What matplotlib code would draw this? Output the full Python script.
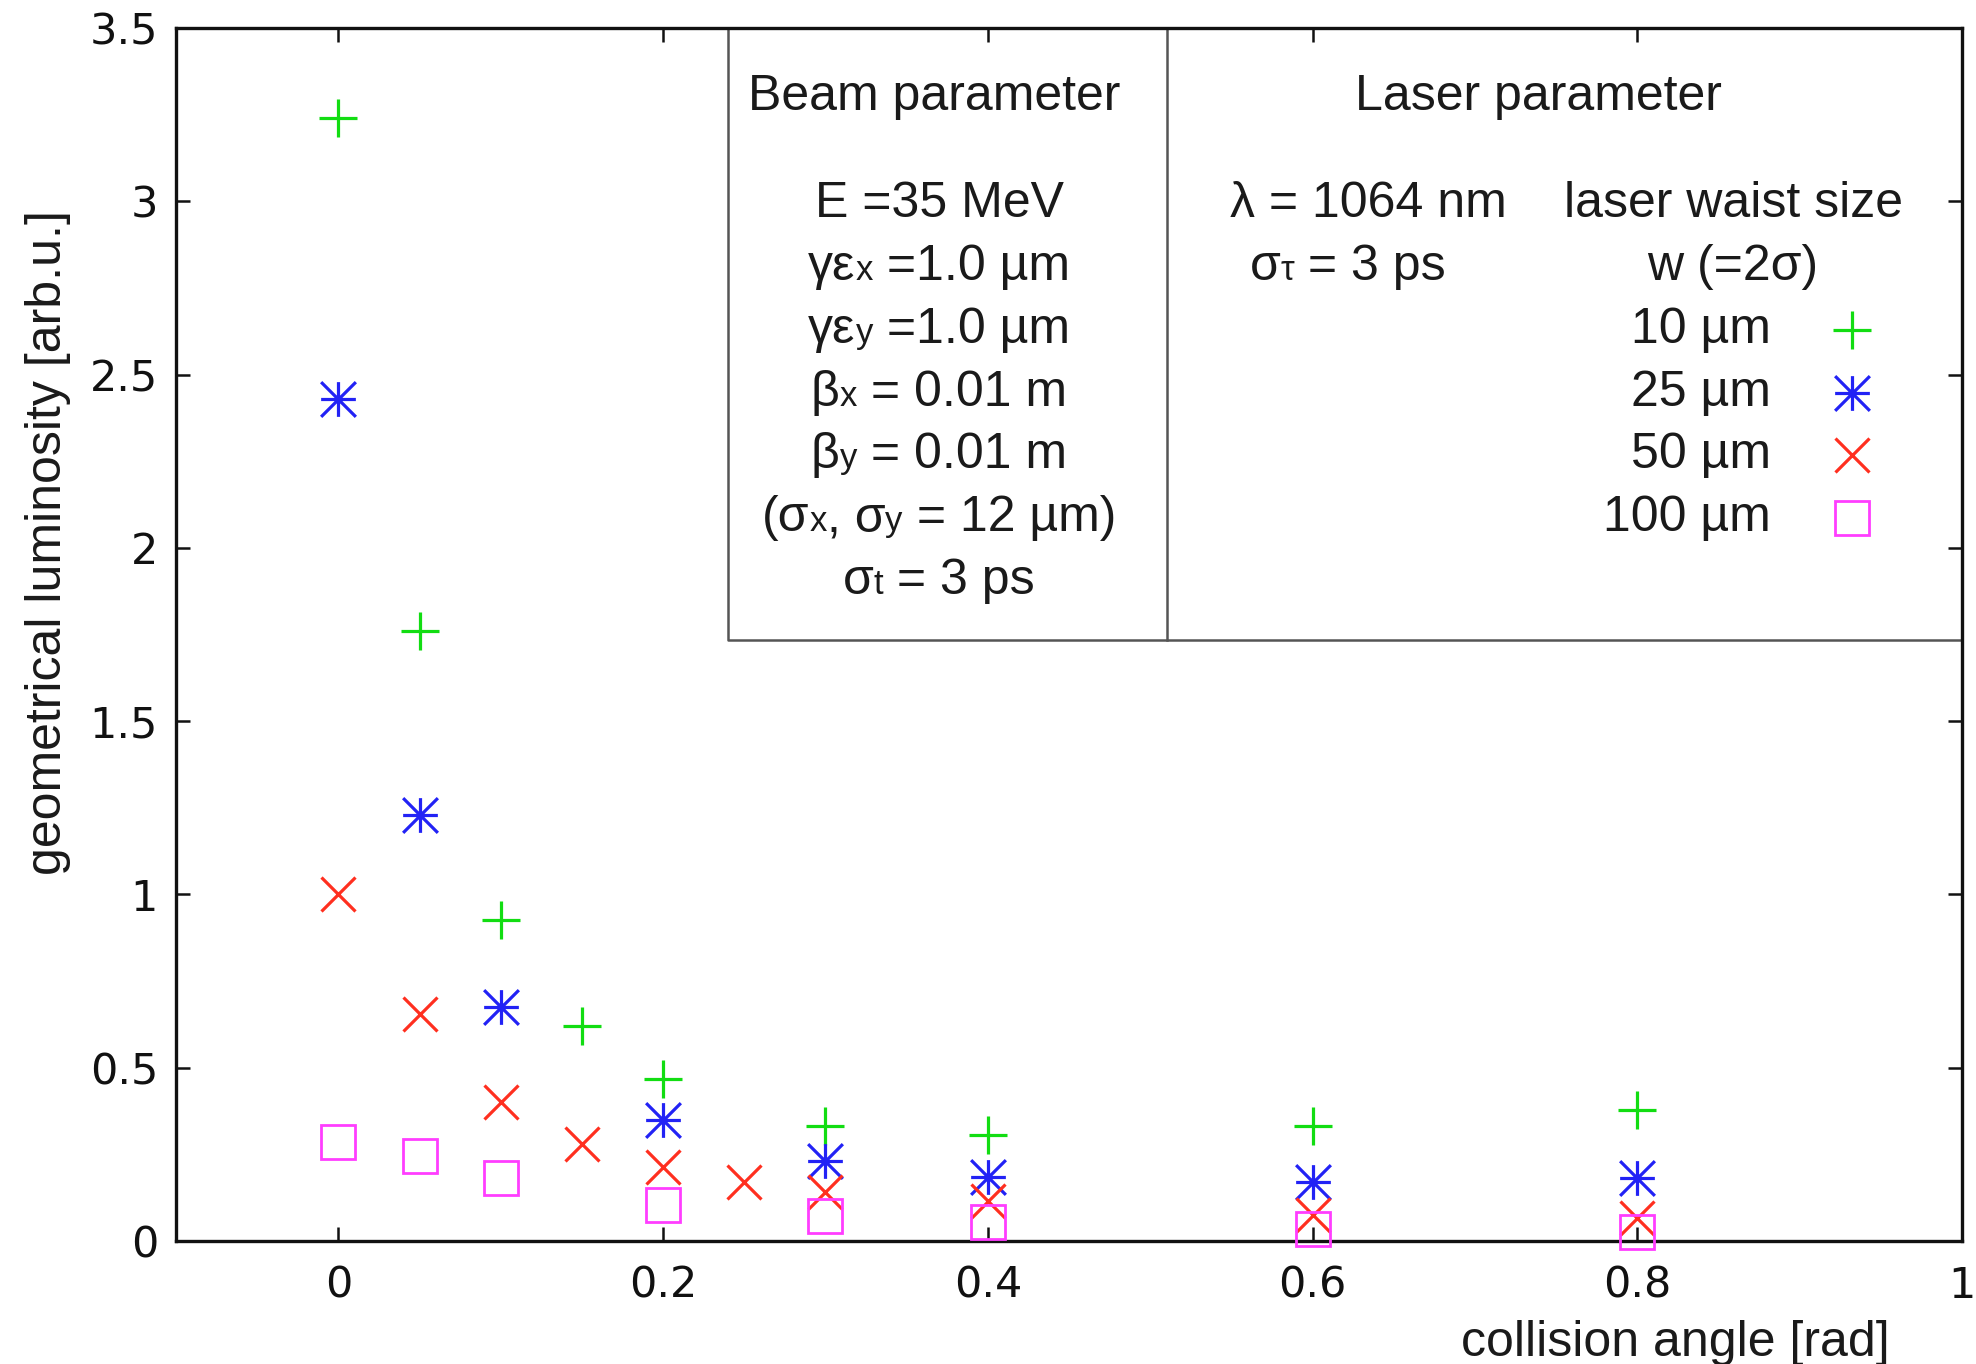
import matplotlib
matplotlib.use("Agg")
import matplotlib.pyplot as plt
from matplotlib.offsetbox import TextArea, HPacker, AnnotationBbox
from matplotlib.path import Path

# ---- data: geometrical luminosity vs collision angle for four laser waist sizes
angle_10 = [0.0, 0.05, 0.10, 0.15, 0.20, 0.30, 0.40, 0.60, 0.80]
lum_10 = [3.24, 1.76, 0.925, 0.62, 0.468, 0.332, 0.306, 0.331, 0.379]

angle_25 = [0.0, 0.05, 0.10, 0.20, 0.30, 0.40, 0.60, 0.80]
lum_25 = [2.43, 1.23, 0.674, 0.348, 0.231, 0.186, 0.171, 0.183]

angle_50 = [0.0, 0.05, 0.10, 0.15, 0.20, 0.25, 0.30, 0.40, 0.60, 0.80]
lum_50 = [1.0, 0.655, 0.401, 0.279, 0.213, 0.170, 0.140, 0.115, 0.075, 0.065]

angle_100 = [0.0, 0.05, 0.10, 0.20, 0.30, 0.40, 0.60, 0.80]
lum_100 = [0.287, 0.244, 0.181, 0.104, 0.072, 0.056, 0.035, 0.027]

series_labels = ["10 µm", "25 µm", "50 µm", "100 µm"]

xticks = [0.0, 0.2, 0.4, 0.6, 0.8, 1.0]
xtick_labels = ["0", "0.2", "0.4", "0.6", "0.8", "1"]
yticks = [0.0, 0.5, 1.0, 1.5, 2.0, 2.5, 3.0, 3.5]
ytick_labels = ["0", "0.5", "1", "1.5", "2", "2.5", "3", "3.5"]

# ---- styling
FAMILY = ["Liberation Sans", "DejaVu Sans"]
MAIN = 36
SUB = 25
TXT = "#1a1a1a"

green = "#12dd12"
blue = "#2222f5"
red = "#ff2f1f"
magenta = "#ff3dff"

# gnuplot-style asterisk: plus and cross overlaid
asterisk = Path(
    [(-1, 0), (1, 0), (0, -1), (0, 1), (-1, -1), (1, 1), (-1, 1), (1, -1)],
    [Path.MOVETO, Path.LINETO] * 4,
)

styles = [
    dict(marker="+", ms=27, color=green, mew=2.3),
    dict(marker=asterisk, ms=25, color=blue, mew=2.3),
    dict(marker="x", ms=24, color=red, mew=2.3),
    dict(marker="s", ms=24, color=magenta, mew=2.0, mfc="none"),
]

fig = plt.figure(figsize=(19.76, 13.64), dpi=100)
ax = fig.add_axes([0.0891, 0.0902, 0.9038, 0.8893])

series = [(angle_10, lum_10), (angle_25, lum_25), (angle_50, lum_50), (angle_100, lum_100)]
for i, ((xs, ys), st) in enumerate(zip(series, styles)):
    ax.plot(xs, ys, ls="none", marker=st["marker"], ms=st["ms"], mec=st["color"],
            mfc=st.get("mfc", st["color"]), mew=st["mew"], zorder=3 + i, clip_on=False)

ax.set_xlim(-0.1, 1.0)
ax.set_ylim(0, 3.5)
ax.set_xticks(xticks)
ax.set_xticklabels(xtick_labels)
ax.set_yticks(yticks)
ax.set_yticklabels(ytick_labels)
ax.tick_params(direction="in", length=10, width=1.8, top=True, right=True,
               labelsize=31, colors="#111111")
ax.tick_params(axis="x", pad=17)
ax.tick_params(axis="y", pad=13)
for lab in ax.get_xticklabels() + ax.get_yticklabels():
    lab.set_family("DejaVu Sans")
for sp in ax.spines.values():
    sp.set_linewidth(2.4)
    sp.set_color("#111111")

fig.text(0.8477, 0.0055, "collision angle [rad]", ha="center", va="baseline",
         fontsize=MAIN, family=FAMILY, color=TXT)
fig.text(0.0243, 0.602, "geometrical luminosity [arb.u.]", ha="center", va="center",
         rotation=90, fontsize=MAIN, family=FAMILY, color=TXT)

# ---- parameter table in the upper right
box_left, box_div, box_bottom = 0.3091, 0.5549, 0.4955
frame_kw = dict(transform=ax.transAxes, color="#555555", lw=1.8, clip_on=False, zorder=2)
ax.plot([box_left, box_left, 1.0], [1.0, box_bottom, box_bottom], **frame_kw)
ax.plot([box_div, box_div], [1.0, box_bottom], **frame_kw)


def text_line(parts, x, y, ha="center"):
    children = [TextArea(s, textprops=dict(fontsize=SUB if small else MAIN,
                                           family=FAMILY, color=TXT))
                for s, small in parts]
    box = HPacker(children=children, align="baseline", pad=0, sep=0)
    hx = {"center": 0.5, "right": 1.0, "left": 0.0}[ha]
    ab = AnnotationBbox(box, (x, y), xycoords="axes fraction", frameon=False,
                        box_alignment=(hx, 0.5), pad=0, zorder=6)
    ax.add_artist(ab)


row_y = [0.855, 0.803, 0.751, 0.699, 0.648, 0.596, 0.544]
head_y = 0.943

text_line([("Beam parameter", False)], 0.4244, head_y)
beam_lines = [
    [("E =35 MeV", False)],
    [("γε", False), ("x", True), (" =1.0 µm", False)],
    [("γε", False), ("y", True), (" =1.0 µm", False)],
    [("β", False), ("x", True), (" = 0.01 m", False)],
    [("β", False), ("y", True), (" = 0.01 m", False)],
    [("(σ", False), ("x", True), (", σ", False), ("y", True), (" = 12 µm)", False)],
    [("σ", False), ("t", True), (" = 3 ps", False)],
]
for parts, y in zip(beam_lines, row_y):
    text_line(parts, 0.4272, y)

text_line([("Laser parameter", False)], 0.7626, head_y)
text_line([("λ = 1064 nm", False)], 0.6674, row_y[0])
text_line([("σ", False), ("τ", True), (" = 3 ps", False)], 0.6562, row_y[1])
text_line([("laser waist size", False)], 0.8723, row_y[0])
text_line([("w (=2σ)", False)], 0.8718, row_y[1])

for i, (lab, st) in enumerate(zip(series_labels, styles)):
    y = row_y[2 + i]
    text_line([(lab, False)], 0.8930, y, ha="right")
    ax.plot([0.9384], [y], transform=ax.transAxes, ls="none", marker=st["marker"],
            ms=st["ms"], mec=st["color"], mfc=st.get("mfc", st["color"]),
            mew=st["mew"], clip_on=False, zorder=6)

fig.savefig("out.png", dpi=100, facecolor="white")
